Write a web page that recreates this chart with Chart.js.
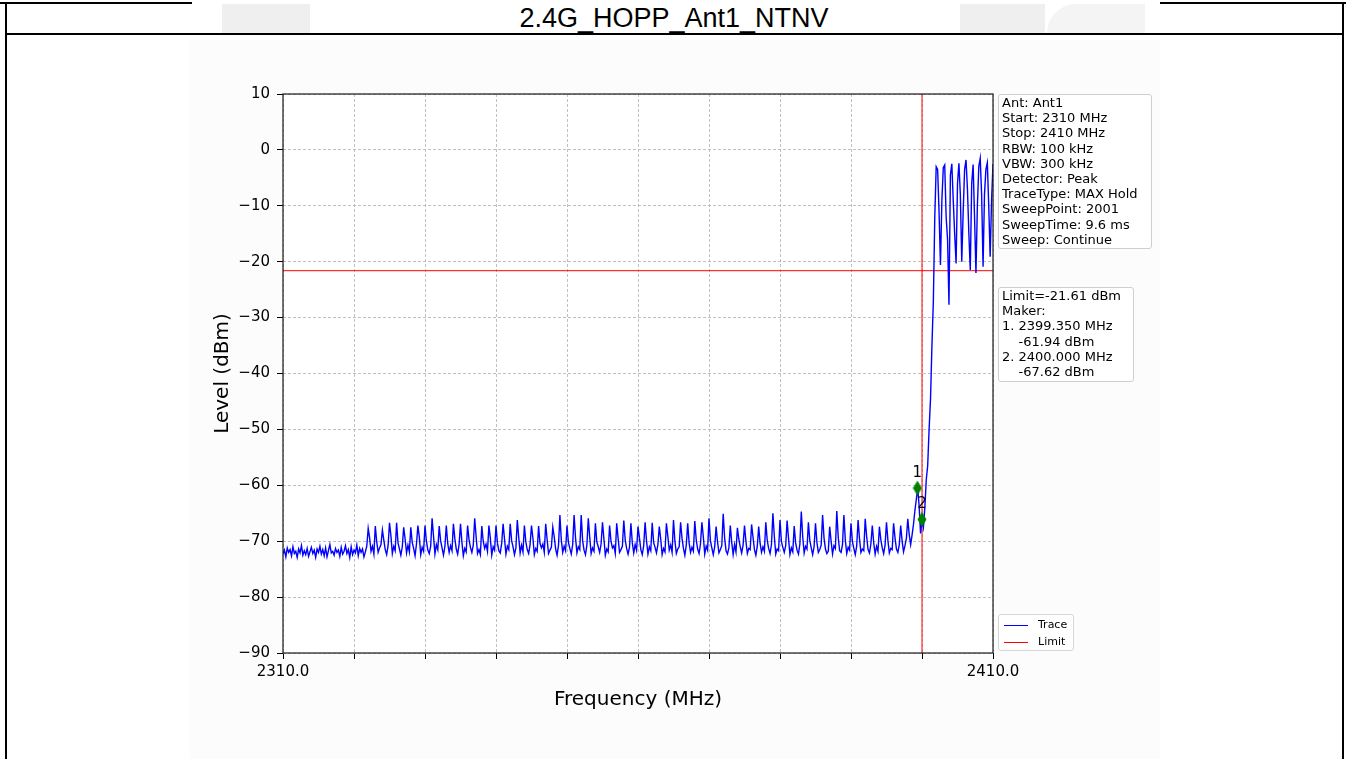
<!DOCTYPE html>
<html><head><meta charset="utf-8">
<script src="https://cdn.jsdelivr.net/npm/chart.js@4.4.0/dist/chart.umd.min.js"></script>
<style>
html,body{margin:0;padding:0;background:#fff;width:1346px;height:759px;overflow:hidden;}
body{position:relative;font-family:"DejaVu Sans",sans-serif;color:#000;}
.ln{position:absolute;background:#000;}
.wm{position:absolute;background:#efefef;}
#title{position:absolute;left:5px;width:1338px;top:0;height:34px;text-align:center;font-family:"Liberation Sans",Arial,sans-serif;font-size:27px;line-height:36px;}
#figbg{position:absolute;left:190px;top:40px;width:970px;height:719px;background:#fcfcfc;}
#c{position:absolute;left:190px;top:41px;}
.box{position:absolute;border:1px solid #cfcfcf;border-radius:3px;background:rgba(255,255,255,0.85);font-size:13px;line-height:15.2px;padding:0 0 0 3px;white-space:pre;box-sizing:border-box;}
#leg{position:absolute;left:998px;top:614px;width:76px;height:37px;border:1px solid #d5d5d5;border-radius:3px;background:rgba(255,255,255,0.85);box-sizing:border-box;font-size:11px;}
.li{position:absolute;left:5px;width:24px;height:1.6px;}
.lt{position:absolute;left:39px;line-height:13px;}
</style></head>
<body>
<div class="wm" style="left:222px;top:4px;width:88px;height:29px;"></div>
<div class="wm" style="left:960px;top:4px;width:85px;height:29px;"></div>
<div class="wm" style="left:1047px;top:4px;width:98px;height:29px;background:#f4f4f4;border-radius:30px 0 0 0;"></div>
<div class="ln" style="left:0;top:2px;width:192px;height:2px;"></div>
<div class="ln" style="left:1160px;top:2px;width:186px;height:2px;"></div>
<div class="ln" style="left:5px;top:33px;width:1339px;height:2px;"></div>
<div class="ln" style="left:5px;top:2px;width:1.5px;height:757px;"></div>
<div class="ln" style="left:1342px;top:2px;width:1.5px;height:757px;"></div>
<div id="title">2.4G_HOPP_Ant1_NTNV</div>
<div id="figbg"></div>
<canvas id="c" width="970" height="718"></canvas>
<div class="box" style="left:998px;top:94px;width:154px;height:155px;">Ant: Ant1
Start: 2310 MHz
Stop: 2410 MHz
RBW: 100 kHz
VBW: 300 kHz
Detector: Peak
TraceType: MAX Hold
SweepPoint: 2001
SweepTime: 9.6 ms
Sweep: Continue</div>
<div class="box" style="left:998px;top:287px;width:136px;height:95px;">Limit=-21.61 dBm
Maker:
1. 2399.350 MHz
    -61.94 dBm
2. 2400.000 MHz
    -67.62 dBm</div>
<div id="leg">
  <div class="li" style="top:9.5px;background:#0000ff;"></div><div class="lt" style="top:3px;">Trace</div>
  <div class="li" style="top:26.5px;background:#ff0000;"></div><div class="lt" style="top:20px;">Limit</div>
</div>
<script>
// Sweep definition (0.2 MHz step)
const SWEEP_START = 2310.0;
const SWEEP_STEP = 0.2;

// Noise floor, 2310-2321 MHz (each row = one MHz: .0 .2 .4 .6 .8)
const floorRows = [
  [-72.3,-71.6,-72.8,-71.2,-72.0],
  [-71.5,-72.6,-71.0,-72.2,-71.8],
  [-72.9,-71.4,-72.1,-70.8,-72.5],
  [-71.7,-72.4,-71.3,-72.7,-71.9],
  [-71.1,-72.2,-71.6,-72.9,-71.4],
  [-72.0,-70.9,-72.3,-71.5,-72.6],
  [-71.2,-72.8,-71.7,-70.6,-72.1],
  [-71.8,-72.5,-71.3,-72.0,-71.6],
  [-72.7,-71.1,-72.3,-71.8,-70.8],
  [-72.2,-71.5,-72.9,-71.0,-72.4],
  [-71.6,-72.1,-70.7,-72.6,-71.3],
  [-72.0,-71.4,-72.8,-71.9,-70.9]
];

// Hopping spurs, 2322-2399 MHz
const spurRows = [
  [-67.7,-69.4,-71.8,-70.9,-72.3],
  [-67.3,-70.1,-72.0,-71.2,-70.6],
  [-68.0,-69.8,-71.5,-72.4,-70.8],
  [-66.7,-69.0,-72.2,-70.9,-71.7],
  [-66.7,-70.3,-71.4,-72.5,-71.0],
  [-67.5,-69.6,-72.1,-70.7,-71.9],
  [-67.5,-70.2,-71.3,-72.6,-70.5],
  [-67.2,-69.3,-72.4,-71.1,-71.8],
  [-67.2,-70.0,-71.6,-72.2,-70.9],
  [-65.9,-69.1,-72.3,-70.6,-71.5],
  [-67.3,-69.9,-71.2,-72.5,-71.0],
  [-67.2,-70.4,-72.0,-70.8,-71.7],
  [-66.9,-69.5,-71.4,-72.3,-70.6],
  [-66.9,-70.2,-72.6,-71.3,-71.9],
  [-67.2,-69.7,-71.1,-72.0,-70.7],
  [-65.9,-69.2,-72.2,-71.5,-72.4],
  [-67.3,-70.0,-71.3,-70.5,-71.8],
  [-67.2,-69.4,-72.5,-71.0,-71.6],
  [-67.2,-70.3,-71.7,-72.1,-70.4],
  [-66.9,-69.6,-72.3,-70.9,-71.5],
  [-66.9,-69.9,-71.0,-72.4,-71.2],
  [-66.2,-69.3,-72.1,-70.7,-71.9],
  [-67.2,-70.1,-71.5,-72.2,-70.6],
  [-67.2,-69.5,-72.4,-71.3,-71.8],
  [-67.3,-70.4,-71.2,-70.5,-72.0],
  [-66.9,-69.7,-72.2,-71.6,-71.1],
  [-67.5,-69.2,-71.4,-72.5,-70.8],
  [-65.3,-69.8,-72.0,-70.9,-71.7],
  [-67.2,-70.2,-71.3,-72.3,-70.6],
  [-65.3,-69.4,-72.1,-71.0,-71.5],
  [-65.3,-69.9,-71.6,-72.4,-70.7],
  [-65.9,-69.3,-72.2,-71.2,-71.8],
  [-66.8,-70.1,-71.0,-72.0,-70.5],
  [-66.6,-69.6,-72.5,-71.4,-71.9],
  [-67.2,-70.0,-71.2,-70.8,-72.2],
  [-66.8,-69.5,-72.0,-71.5,-70.9],
  [-66.3,-69.8,-71.3,-72.3,-71.1],
  [-66.8,-70.3,-72.1,-70.6,-71.6],
  [-67.4,-69.4,-71.5,-72.4,-70.8],
  [-66.6,-69.9,-72.3,-71.0,-71.7],
  [-66.7,-70.2,-71.1,-72.1,-70.6],
  [-67.4,-69.6,-72.4,-71.3,-71.9],
  [-66.8,-69.1,-71.6,-70.7,-72.0],
  [-66.2,-70.0,-72.2,-71.4,-71.0],
  [-66.6,-69.5,-71.3,-72.5,-70.7],
  [-66.8,-70.3,-72.0,-71.1,-71.8],
  [-66.4,-69.7,-71.4,-72.2,-70.5],
  [-66.6,-69.2,-72.3,-70.9,-71.6],
  [-65.9,-69.9,-71.2,-72.4,-71.0],
  [-67.4,-70.1,-72.1,-71.5,-70.8],
  [-65.1,-69.4,-71.7,-72.3,-71.2],
  [-67.2,-70.2,-72.4,-70.6,-71.9],
  [-67.6,-69.6,-71.0,-72.1,-70.7],
  [-67.2,-70.0,-72.2,-71.3,-71.5],
  [-67.0,-69.3,-71.5,-72.5,-70.9],
  [-67.4,-70.4,-72.0,-71.0,-71.8],
  [-66.6,-69.8,-71.3,-72.2,-70.6],
  [-65.0,-69.1,-72.3,-71.4,-71.7],
  [-66.2,-70.1,-71.1,-72.0,-70.8],
  [-66.3,-69.5,-72.4,-71.2,-71.9],
  [-67.3,-70.3,-71.6,-72.3,-70.5],
  [-64.7,-69.2,-72.1,-70.9,-71.4],
  [-66.6,-69.9,-71.2,-72.4,-71.0],
  [-66.8,-70.2,-72.0,-71.5,-70.7],
  [-65.3,-69.4,-71.4,-72.2,-71.8],
  [-67.4,-70.0,-72.3,-70.8,-71.3],
  [-64.6,-69.3,-71.7,-72.0,-70.6],
  [-65.3,-69.8,-72.2,-71.1,-71.6],
  [-66.8,-70.1,-71.3,-72.4,-70.9],
  [-66.2,-69.6,-72.0,-71.4,-71.7],
  [-66.0,-69.1,-71.5,-72.1,-70.5],
  [-67.2,-70.3,-72.3,-70.9,-71.8],
  [-67.4,-69.7,-71.2,-72.2,-70.7],
  [-66.6,-69.9,-72.1,-71.3,-71.5],
  [-66.8,-69.4,-71.4,-72.0,-70.6],
  [-67.2,-70.0,-71.9,-70.8,-69.5],
  [-66.0,-68.8,-70.6,-68.9,-67.0],
  [-64.5,-62.5,-60.5,-63.8,-68.6]
];

// Band edge and in-band hopping, 2400-2410 MHz
const bandRows = [
  [-66.1,-67.5,-64.0,-59.0,-56.5],
  [-50.0,-44.5,-35.0,-27.0,-12.0],
  [-3.0,-3.5,-11.0,-20.6,-9.0],
  [-3.2,-2.7,-12.0,-16.0,-27.7],
  [-4.5,-2.5,-9.0,-15.0,-20.3],
  [-6.0,-2.4,-8.0,-20.0,-11.0],
  [-3.5,-1.8,-7.0,-15.0,-21.5],
  [-6.0,-2.6,-12.0,-22.0,-10.0],
  [-3.0,-1.5,-8.0,-20.9,-8.0],
  [-3.5,-2.3,-10.0,-19.1,-9.0],
  [-2.5]
];

const limitLevel = -21.61;
const limitFreqs = [2310, 2410];
const edgeFreq = 2400;
const yRange = [-90, 10];
const xRange = [2310, 2410];

const markerFreqs = [2399.35, 2400.0];
const markerLevels = [-60.5, -66.1];
const markerNames = ['1', '2'];

const levels = [].concat(...floorRows, ...spurRows, ...bandRows);
const freqs = levels.map((_, i) => Math.round((SWEEP_START + i * SWEEP_STEP) * 10) / 10);

Chart.defaults.font.family = "'DejaVu Sans', sans-serif";
Chart.defaults.color = '#000';

// thin diamond marker style
const dia = document.createElement('canvas');
dia.width = 10; dia.height = 16;
(function(){ const g = dia.getContext('2d'); g.fillStyle = '#008000';
  g.beginPath(); g.moveTo(5,0.5); g.lineTo(9.5,8); g.lineTo(5,15.5); g.lineTo(0.5,8); g.closePath(); g.fill(); })();

const framePlugin = {
  id: 'frame',
  beforeDraw(chart) {
    const a = chart.chartArea, c = chart.ctx;
    c.save(); c.fillStyle = '#fff'; c.fillRect(a.left, a.top, a.right - a.left, a.bottom - a.top); c.restore();
  },
  afterDatasetsDraw(chart) {
    const a = chart.chartArea, c = chart.ctx;
    c.save();
    c.strokeStyle = '#1a1a1a'; c.lineWidth = 1.2;
    c.strokeRect(a.left, a.top, a.right - a.left, a.bottom - a.top);
    const meta = chart.getDatasetMeta(0);
    c.fillStyle = '#000'; c.font = "15px 'DejaVu Sans'"; c.textAlign = 'center'; c.textBaseline = 'middle';
    meta.data.forEach((p, i) => c.fillText(markerNames[i], p.x, p.y - 15));
    c.restore();
  }
};

new Chart(document.getElementById('c'), {
  type: 'line',
  data: {
    datasets: [
      { label: 'Marker', type: 'scatter', order: 0,
        data: markerFreqs.map((f, i) => ({x: f, y: markerLevels[i]})),
        pointStyle: dia, pointRadius: 8, showLine: false },
      { label: 'Trace', order: 1,
        data: freqs.map((f, i) => ({x: f, y: levels[i]})),
        borderColor: '#0000ff', borderWidth: 1.4, pointRadius: 0, tension: 0, fill: false },
      { label: 'Limit', order: 2,
        data: limitFreqs.map(f => ({x: f, y: limitLevel})),
        borderColor: '#ff0000', borderWidth: 1, pointRadius: 0, fill: false },
      { label: 'Edge', order: 3,
        data: yRange.map(v => ({x: edgeFreq, y: v})),
        borderColor: '#ff0000', borderWidth: 1, pointRadius: 0, fill: false }
    ]
  },
  options: {
    responsive: false, animation: false, events: [],
    layout: { padding: { top: 53, right: 167, left: 0, bottom: 0 } },
    plugins: { legend: { display: false }, tooltip: { enabled: false } },
    scales: {
      x: {
        type: 'linear', min: xRange[0], max: xRange[1],
        afterFit: s => { s.height = 106; },
        ticks: { stepSize: 10, autoSkip: false, maxRotation: 0, padding: 4,
          font: { size: 15 },
          callback: v => (v === xRange[0] || v === xRange[1]) ? v.toFixed(1) : '' },
        grid: { color: '#b0b0b0', lineWidth: 0.8, tickLength: 6, tickColor: '#000', tickWidth: 1 },
        border: { display: false, dash: [3, 2] },
        title: { display: true, text: 'Frequency (MHz)', font: { size: 20 }, padding: { top: 0, bottom: 47 } }
      },
      y: {
        type: 'linear', min: yRange[0], max: yRange[1],
        afterFit: s => { s.width = 93; },
        ticks: { stepSize: 10, padding: 7, font: { size: 15 },
          callback: v => String(v).replace('-', '\u2212') },
        grid: { color: '#b0b0b0', lineWidth: 0.8, tickLength: 6, tickColor: '#000', tickWidth: 1 },
        border: { display: false, dash: [3, 2] },
        title: { display: true, text: 'Level (dBm)', font: { size: 20 }, padding: { top: 21, bottom: 0 } }
      }
    }
  },
  plugins: [framePlugin]
});
</script>
</body></html>
